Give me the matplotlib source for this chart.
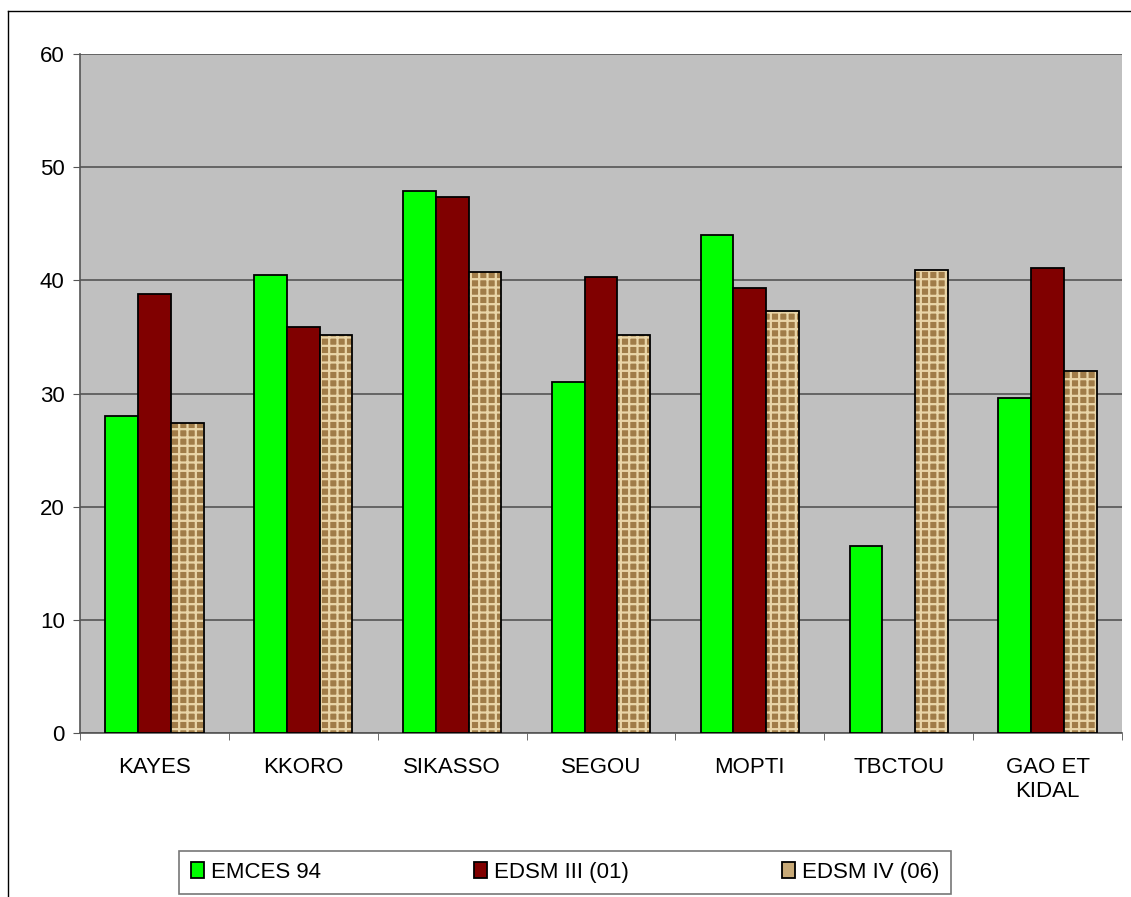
import numpy as np
import matplotlib
matplotlib.use("Agg")
import matplotlib.pyplot as plt
from matplotlib.patches import Patch
from matplotlib.lines import Line2D

plt.rcParams['font.family'] = ['Liberation Sans', 'DejaVu Sans']
plt.rcParams['hatch.linewidth'] = 1.6

# Données
regions = ["KAYES", "KKORO", "SIKASSO", "SEGOU", "MOPTI", "TBCTOU", "GAO ET\nKIDAL"]
emces_94 = [28.0, 40.5, 47.9, 31.0, 44.0, 16.5, 29.6]
edsm_iii_01 = [38.8, 35.9, 47.4, 40.3, 39.3, 0.0, 41.1]
edsm_iv_06 = [27.4, 35.2, 40.7, 35.2, 37.3, 40.9, 32.0]
series_labels = ["EMCES 94", "EDSM III (01)", "EDSM IV (06)"]

fig = plt.figure(figsize=(11.31, 8.97), dpi=100)
ax = fig.add_axes([80/1131, 1-733/897, (1122-80)/1131, (733-54)/897])

# cadre extérieur (haut et gauche visibles)
fig.add_artist(Line2D([8/1131, 8/1131], [0, 1-11/897], transform=fig.transFigure,
                      color='black', linewidth=1))
fig.add_artist(Line2D([8/1131, 1], [1-11/897, 1-11/897], transform=fig.transFigure,
                      color='black', linewidth=1))

x = np.arange(len(regions))
w = 0.22
tan = '#A07C48'
weave = '#E9D5A8'

ax.set_facecolor('#C0C0C0')
ax.bar(x - w, emces_94, w, color='#00FF00', edgecolor='black', linewidth=1.3, zorder=3)
lw_red = [1.3 if v > 0 else 0 for v in edsm_iii_01]
ax.bar(x, edsm_iii_01, w, color='#800000', edgecolor='black', linewidth=lw_red, zorder=3)
ax.bar(x + w, edsm_iv_06, w, color=tan, edgecolor=weave, hatch='++',
       linewidth=0, zorder=3)
ax.bar(x + w, edsm_iv_06, w, fill=False, edgecolor='black', linewidth=1.3, zorder=4)

ax.set_xlim(-0.5, len(regions) - 0.5)
ax.set_ylim(0, 60)
ax.set_yticks(range(0, 61, 10))
ax.yaxis.grid(True, color='#555555', linewidth=1.2, zorder=1)
ax.set_axisbelow(True)

ax.set_xticks(x)
ax.set_xticklabels(regions, fontsize=16, linespacing=1.2)
ax.set_xticks(np.arange(-0.5, len(regions), 1), minor=True)
ax.tick_params(axis='x', which='major', length=0, pad=17)
ax.tick_params(axis='x', which='minor', length=5, color='#555555', direction='out')
ax.tick_params(axis='y', labelsize=16, length=5, color='#555555', pad=6)

for s in ['top', 'right']:
    ax.spines[s].set_visible(False)
for s in ['left', 'bottom']:
    ax.spines[s].set_color('#555555')
    ax.spines[s].set_linewidth(1.2)

handles = [
    Patch(facecolor='#00FF00', edgecolor='black', linewidth=1.3),
    Patch(facecolor='#800000', edgecolor='black', linewidth=1.3),
    Patch(facecolor='#C8AA78', edgecolor='black', linewidth=1.3),
]
leg = fig.legend(handles, series_labels, loc='center', ncol=3,
                 bbox_to_anchor=(565/1131, 1-872.5/897), fontsize=16,
                 frameon=True, fancybox=False, edgecolor='#555555',
                 handlelength=0.6, handleheight=0.75, handletextpad=0.3,
                 columnspacing=6.9, borderpad=0.5, borderaxespad=0)
leg.get_frame().set_linewidth(1.2)

plt.savefig("out.png", dpi=100)
